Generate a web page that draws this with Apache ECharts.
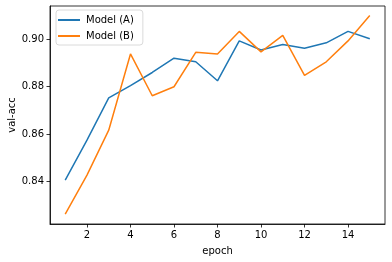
<!DOCTYPE html>
<html>
<head>
<meta charset="utf-8">
<script src="https://cdn.jsdelivr.net/npm/echarts@6/dist/echarts.min.js"></script>
<style>
html,body{margin:0;padding:0;background:#fff;}
#chart{width:392px;height:262px;}
</style>
</head>
<body>
<div id="chart"></div>
<script>
var epochs = [1,2,3,4,5,6,7,8,9,10,11,12,13,14,15];
var modelA = [0.8407,0.8575,0.8753,0.8805,0.8860,0.8920,0.8905,0.8825,0.8993,0.8955,0.8978,0.8962,0.8985,0.9033,0.9002];
var modelB = [0.8264,0.8428,0.8617,0.8938,0.8762,0.8800,0.8945,0.8938,0.9033,0.8947,0.9016,0.8848,0.8905,0.8993,0.9100];
var xTicks = [2,4,6,8,10,12,14];
var yTicks = [0.84,0.86,0.88,0.90];
var seriesNames = ['Model (A)','Model (B)'];

var font = 'DejaVu Sans';
var chart = echarts.init(document.getElementById('chart'), null, {renderer:'canvas'});
function pts(vals){ return epochs.map(function(e,i){ return [e, vals[i]]; }); }
chart.setOption({
  animation:false,
  grid:{left:50,right:7,top:6,bottom:38,containLabel:false,outerBoundsMode:'none',
        show:true,borderColor:'#000',borderWidth:0.8,backgroundColor:'transparent'},
  legend:{
    left:56, top:10, orient:'vertical',
    data:seriesNames,
    icon:'rect', itemWidth:22, itemHeight:2, itemGap:4,
    padding:[4,9,3,2],
    borderColor:'#d0d0d0', borderWidth:0.8, borderRadius:3,
    backgroundColor:'rgba(255,255,255,0.8)',
    textStyle:{fontFamily:font,fontSize:10,color:'#000',lineHeight:12,padding:[0,0,0,1]}
  },
  xAxis:{
    type:'value', min:0.3, max:15.7,
    name:'epoch', nameLocation:'middle', nameGap:22, nameMoveOverlap:false,
    nameTextStyle:{fontFamily:font,fontSize:10,color:'#000'},
    axisLine:{show:true,lineStyle:{color:'#000',width:0.8}},
    axisTick:{show:true,length:3.5,inside:false,customValues:xTicks,lineStyle:{color:'#000',width:0.8}},
    axisLabel:{customValues:xTicks,margin:6,fontFamily:font,fontSize:10,color:'#000'},
    splitLine:{show:false}
  },
  yAxis:{
    type:'value', min:0.8222, max:0.9140,
    name:'val-acc', nameLocation:'middle', nameGap:33, nameRotate:90, nameMoveOverlap:false,
    nameTextStyle:{fontFamily:font,fontSize:10,color:'#000'},
    axisLine:{show:true,lineStyle:{color:'#000',width:0.8}},
    axisTick:{show:true,length:3.5,inside:false,customValues:yTicks,lineStyle:{color:'#000',width:0.8}},
    axisLabel:{customValues:yTicks,margin:6,fontFamily:font,fontSize:10,color:'#000',
      formatter:function(v){return v.toFixed(2);}},
    splitLine:{show:false}
  },
  series:[
    {name:seriesNames[0],type:'line',data:pts(modelA),showSymbol:false,symbol:'none',
     lineStyle:{color:'#1f77b4',width:1.5},itemStyle:{color:'#1f77b4'}},
    {name:seriesNames[1],type:'line',data:pts(modelB),showSymbol:false,symbol:'none',
     lineStyle:{color:'#ff7f0e',width:1.5},itemStyle:{color:'#ff7f0e'}}
  ]
});
</script>
</body>
</html>
